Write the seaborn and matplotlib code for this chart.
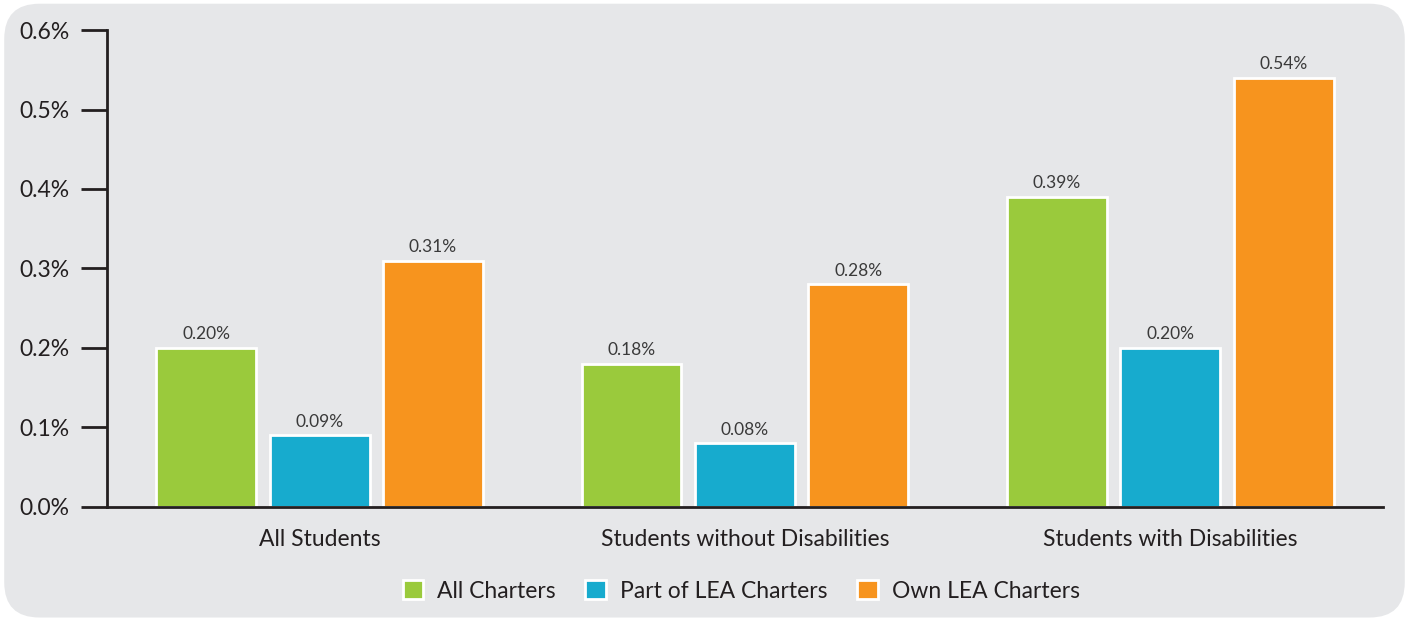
import pandas as pd
import matplotlib.pyplot as plt
import seaborn as sns
from matplotlib.patches import FancyBboxPatch

# Chart data
groups = ['All Students', 'Students without Disabilities', 'Students with Disabilities']
series = ['All Charters', 'Part of LEA Charters', 'Own LEA Charters']
all_charters = [0.20, 0.18, 0.39]
part_of_lea = [0.09, 0.08, 0.20]
own_lea = [0.31, 0.28, 0.54]
colors = ['#9aca3c', '#17abce', '#f7941e']

df = pd.DataFrame({
    'group': groups * 3,
    'series': [s for s in series for _ in groups],
    'value': all_charters + part_of_lea + own_lea,
})

sns.set_style('white')
plt.rcParams['font.family'] = ['Lato', 'DejaVu Sans']

bg = '#e6e7e9'
fig = plt.figure(figsize=(14.09, 6.2), dpi=100)
fig.patch.set_facecolor('white')
# rounded gray panel behind everything
panel = FancyBboxPatch((0.003, 0.004), 0.994, 0.99,
                       boxstyle='round,pad=0,rounding_size=0.025',
                       transform=fig.transFigure, facecolor=bg,
                       edgecolor='none', mutation_aspect=1409 / 620,
                       zorder=-10)
fig.add_artist(panel)

ax = fig.add_axes([0.0759, 0.1823, 0.9056, 0.7693])
ax.set_zorder(1)
ax.patch.set_alpha(0)

sns.barplot(data=df, x='group', y='value', hue='series', palette=colors,
            width=0.8, gap=0.12, edgecolor='white', linewidth=2,
            saturation=1, ax=ax, legend=True)

for cont in ax.containers:
    ax.bar_label(cont, labels=[f'{v:.2f}%' for v in cont.datavalues],
                 padding=4, fontsize=12.5, color='#3a3a3a')

ax.set_ylim(0, 0.6)
ax.set_xlim(-0.5, 2.5)
ax.set_yticks([0, 0.1, 0.2, 0.3, 0.4, 0.5, 0.6])
ax.set_yticklabels([f'{t:.1f}%' for t in ax.get_yticks()])
ax.set_xlabel('')
ax.set_ylabel('')

for s in ['top', 'right']:
    ax.spines[s].set_visible(False)
for s in ['left', 'bottom']:
    ax.spines[s].set_color('#231f20')
    ax.spines[s].set_linewidth(2)

ax.tick_params(axis='y', left=True, length=19, width=2, color='#231f20',
               pad=8, labelsize=16.5, labelcolor='#231f20')
ax.tick_params(axis='x', bottom=False, length=0, pad=16, labelsize=16.5,
               labelcolor='#231f20')

handles, labels = ax.get_legend_handles_labels()
ax.legend(handles, labels, loc='center', bbox_to_anchor=(0.497, -0.176),
          ncol=3, frameon=False, fontsize=16.5, handlelength=0.9,
          handleheight=0.9, handletextpad=0.6, columnspacing=1.3,
          labelcolor='#231f20')

fig.savefig('out.png', dpi=100, facecolor='white')
